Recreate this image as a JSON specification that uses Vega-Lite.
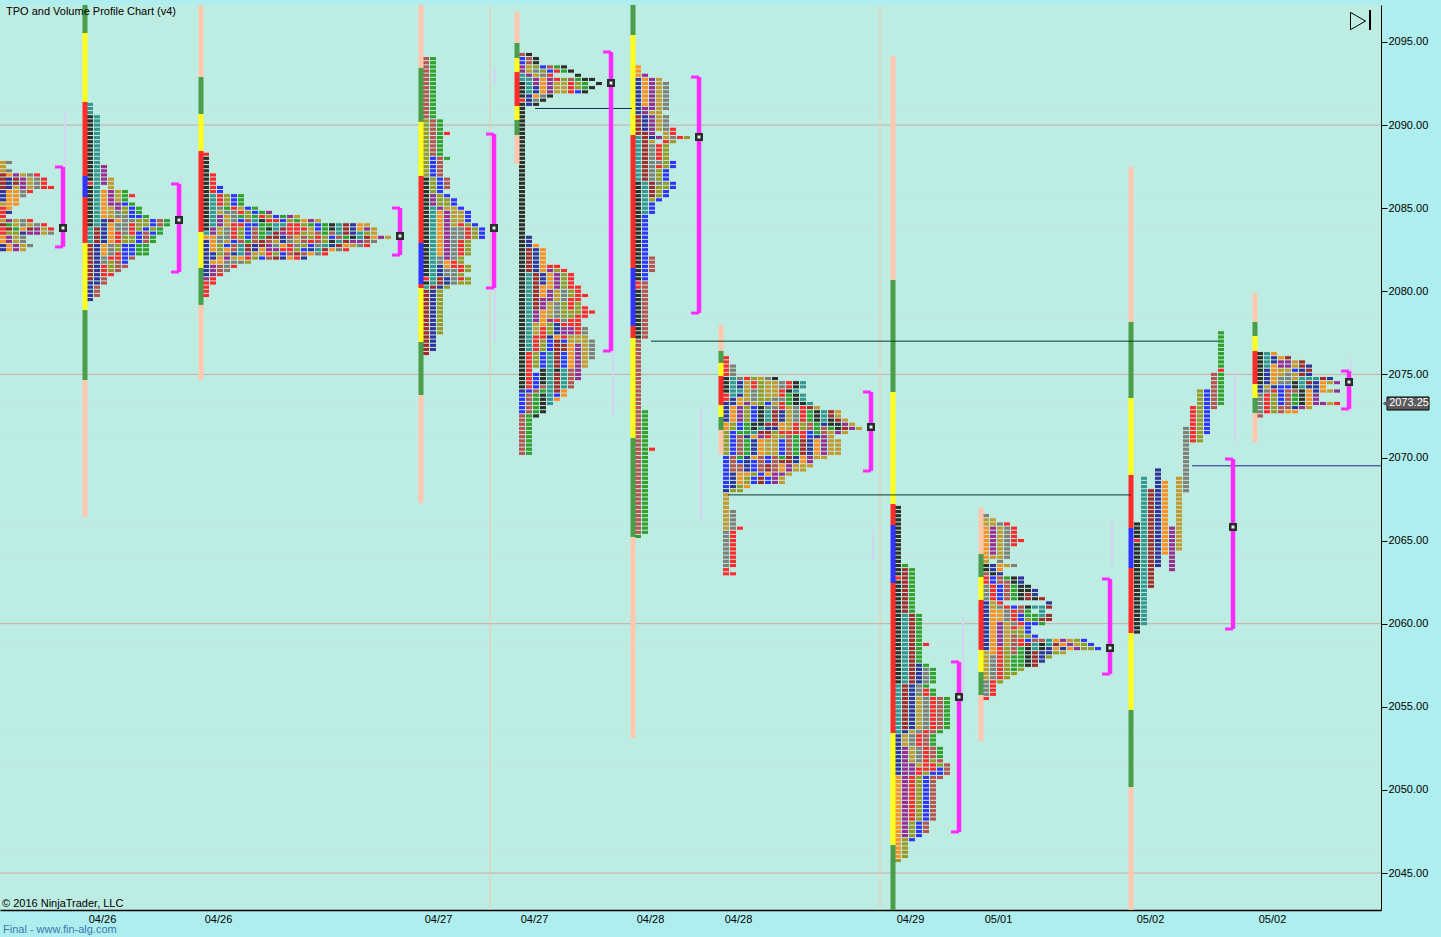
{"$schema":"https://vega.github.io/schema/vega-lite/v6.json","width":1381,"height":905,"autosize":{"type":"none"},"padding":{"left":0,"top":5,"right":60,"bottom":27},"background":"#aeeeee","view":{"fill":"#bdece3","stroke":null},"config":{"font":"Liberation Sans","scale":{"continuousPadding":0}},"resolve":{"axis":{"x":"independent","y":"independent"}},
"datasets":{
"levels":[2045.125,2045.375,2045.625,2045.875,2046.125,2046.375,2046.625,2046.875,2047.125,2047.375,2047.625,2047.875,2048.125,2048.375,2048.625,2048.875,2049.125,2049.375,2049.625,2049.875,2050.125,2050.375,2050.625,2050.875,2051.125,2051.375,2051.625,2051.875,2052.125,2052.375,2052.625,2052.875,2053.125,2053.375,2053.625,2053.875,2054.125,2054.375,2054.625,2054.875,2055.125,2055.375,2055.625,2055.875,2056.125,2056.375,2056.625,2056.875,2057.125,2057.375,2057.625,2057.875,2058.125,2058.375,2058.625,2058.875,2059.125,2059.375,2059.625,2059.875,2060.125,2060.375,2060.625,2060.875,2061.125,2061.375,2061.625,2061.875,2062.125,2062.375,2062.625,2062.875,2063.125,2063.375,2063.625,2063.875,2064.125,2064.375,2064.625,2064.875,2065.125,2065.375,2065.625,2065.875,2066.125,2066.375,2066.625,2066.875,2067.125,2067.375,2067.625,2067.875,2068.125,2068.375,2068.625,2068.875,2069.125,2069.375,2069.625,2069.875,2070.125,2070.375,2070.625,2070.875,2071.125,2071.375,2071.625,2071.875,2072.125,2072.375,2072.625,2072.875,2073.125,2073.375,2073.625,2073.875,2074.125,2074.375,2074.625,2074.875,2075.125,2075.375,2075.625,2075.875,2076.125,2076.375,2076.625,2076.875,2077.125,2077.375,2077.625,2077.875,2078.125,2078.375,2078.625,2078.875,2079.125,2079.375,2079.625,2079.875,2080.125,2080.375,2080.625,2080.875,2081.125,2081.375,2081.625,2081.875,2082.125,2082.375,2082.625,2082.875,2083.125,2083.375,2083.625,2083.875,2084.125,2084.375,2084.625,2084.875,2085.125,2085.375,2085.625,2085.875,2086.125,2086.375,2086.625,2086.875,2087.125,2087.375,2087.625,2087.875,2088.125,2088.375,2088.625,2088.875,2089.125,2089.375,2089.625,2089.875,2090.125,2090.375,2090.625,2090.875,2091.125,2091.375,2091.625,2091.875,2092.125,2092.375,2092.625,2092.875,2093.125,2093.375,2093.625,2093.875,2094.125,2094.375],
"cells":[
{"x":3,"a":2087.75,"b":2087.25,"c":"g"},{"x":3,"a":2087,"b":2086.25,"c":"R"},{"x":3,"a":2086,"b":2085.5,"c":"n"},{"x":3,"a":2085.25,"b":2085.25,"c":"g"},{"x":3,"a":2085,"b":2084.5,"c":"r"},{"x":3,"a":2084.25,"b":2084.25,"c":"g"},{"x":3,"a":2084,"b":2084,"c":"R"},{"x":3,"a":2083.75,"b":2083.5,"c":"r"},{"x":3,"a":2083.25,"b":2083,"c":"o"},{"x":3,"a":2082.75,"b":2082.5,"c":"n"},
{"x":9,"a":2087.75,"b":2087.75,"c":"G"},{"x":9,"a":2087.25,"b":2087.25,"c":"G"},{"x":9,"a":2087,"b":2087,"c":"o"},{"x":9,"a":2086.75,"b":2086.25,"c":"n"},{"x":9,"a":2086,"b":2085,"c":"o"},{"x":9,"a":2084.75,"b":2084.75,"c":"n"},{"x":9,"a":2084.25,"b":2084.25,"c":"p"},{"x":9,"a":2084,"b":2084,"c":"e"},{"x":9,"a":2083.75,"b":2083.75,"c":"R"},{"x":9,"a":2083.5,"b":2083.5,"c":"y"},{"x":9,"a":2083.25,"b":2083,"c":"p"},{"x":9,"a":2082.75,"b":2082.5,"c":"o"},
{"x":16,"a":2087,"b":2087,"c":"p"},{"x":16,"a":2086.75,"b":2086.5,"c":"R"},{"x":16,"a":2086.25,"b":2086.25,"c":"g"},{"x":16,"a":2086,"b":2085.25,"c":"o"},{"x":16,"a":2084.25,"b":2084,"c":"g"},{"x":16,"a":2083.75,"b":2083.75,"c":"e"},{"x":16,"a":2083.5,"b":2083.5,"c":"y"},{"x":16,"a":2083.25,"b":2083,"c":"g"},{"x":16,"a":2082.75,"b":2082.5,"c":"p"},
{"x":23,"a":2087,"b":2087,"c":"g"},{"x":23,"a":2086.75,"b":2086.25,"c":"p"},{"x":23,"a":2086,"b":2085.75,"c":"G"},{"x":23,"a":2084.25,"b":2084,"c":"G"},{"x":23,"a":2083.75,"b":2083.75,"c":"o"},{"x":23,"a":2083.5,"b":2083.5,"c":"n"},{"x":23,"a":2083.25,"b":2083,"c":"G"},{"x":23,"a":2082.75,"b":2082.5,"c":"g"},
{"x":30,"a":2087,"b":2087,"c":"G"},{"x":30,"a":2086.75,"b":2086.25,"c":"g"},{"x":30,"a":2086,"b":2086,"c":"r"},{"x":30,"a":2084.25,"b":2084.25,"c":"r"},{"x":30,"a":2084,"b":2084,"c":"g"},{"x":30,"a":2083.75,"b":2083.75,"c":"R"},{"x":30,"a":2083.5,"b":2083.5,"c":"p"},{"x":30,"a":2082.75,"b":2082.75,"c":"G"},
{"x":37,"a":2087,"b":2087,"c":"r"},{"x":37,"a":2086.75,"b":2086.25,"c":"G"},{"x":37,"a":2084,"b":2084,"c":"G"},{"x":37,"a":2083.75,"b":2083.5,"c":"p"},
{"x":44,"a":2086.75,"b":2086.25,"c":"r"},{"x":44,"a":2084,"b":2084,"c":"r"},{"x":44,"a":2083.75,"b":2083.5,"c":"g"},{"x":51,"a":2086.25,"b":2086.25,"c":"r"},{"x":51,"a":2083.75,"b":2083.75,"c":"r"},{"x":51,"a":2083.5,"b":2083.5,"c":"G"},
{"x":90,"a":2091.25,"b":2090.75,"c":"t"},{"x":90,"a":2090.5,"b":2086.75,"c":"k"},{"x":90,"a":2086.5,"b":2086.5,"c":"r"},{"x":90,"a":2086.25,"b":2084,"c":"k"},{"x":90,"a":2083.75,"b":2083,"c":"t"},{"x":90,"a":2082.75,"b":2080.75,"c":"R"},{"x":90,"a":2080.5,"b":2079.5,"c":"n"},
{"x":97,"a":2090.5,"b":2084,"c":"t"},{"x":97,"a":2083.75,"b":2083,"c":"R"},{"x":97,"a":2082.75,"b":2080.5,"c":"n"},{"x":97,"a":2080.25,"b":2079.75,"c":"i"},
{"x":104,"a":2087.5,"b":2086.5,"c":"p"},{"x":104,"a":2086,"b":2084.5,"c":"o"},{"x":104,"a":2084.25,"b":2083,"c":"n"},{"x":104,"a":2082.75,"b":2082.25,"c":"o"},{"x":104,"a":2082,"b":2081.75,"c":"G"},{"x":104,"a":2081.5,"b":2081,"c":"r"},{"x":104,"a":2080.75,"b":2080.5,"c":"i"},
{"x":111,"a":2086.75,"b":2086.25,"c":"g"},{"x":111,"a":2086,"b":2085.25,"c":"p"},{"x":111,"a":2085,"b":2084.5,"c":"g"},{"x":111,"a":2084.25,"b":2084.25,"c":"R"},{"x":111,"a":2084,"b":2083,"c":"o"},{"x":111,"a":2082.75,"b":2082.25,"c":"G"},{"x":111,"a":2082,"b":2082,"c":"r"},{"x":111,"a":2081.75,"b":2081.25,"c":"y"},{"x":111,"a":2081,"b":2081,"c":"r"},
{"x":118,"a":2086,"b":2085.5,"c":"g"},{"x":118,"a":2085.25,"b":2085,"c":"p"},{"x":118,"a":2084.75,"b":2084.5,"c":"G"},{"x":118,"a":2084.25,"b":2084.25,"c":"o"},{"x":118,"a":2084,"b":2083.75,"c":"G"},{"x":118,"a":2083.5,"b":2083,"c":"r"},{"x":118,"a":2082.75,"b":2082.5,"c":"y"},{"x":118,"a":2082.25,"b":2082,"c":"r"},{"x":118,"a":2081.75,"b":2081.25,"c":"i"},
{"x":125,"a":2086,"b":2085.5,"c":"e"},{"x":125,"a":2085.25,"b":2085.25,"c":"b"},{"x":125,"a":2085,"b":2084.75,"c":"y"},{"x":125,"a":2084.5,"b":2083.5,"c":"G"},{"x":125,"a":2083.25,"b":2083,"c":"y"},{"x":125,"a":2082.75,"b":2081.75,"c":"b"},{"x":125,"a":2081.5,"b":2081.5,"c":"i"},
{"x":132,"a":2085.75,"b":2085.75,"c":"r"},{"x":132,"a":2085.25,"b":2085.25,"c":"e"},{"x":132,"a":2085,"b":2084.5,"c":"b"},{"x":132,"a":2084.25,"b":2084.25,"c":"G"},{"x":132,"a":2084,"b":2083.5,"c":"r"},{"x":132,"a":2083.25,"b":2083,"c":"y"},{"x":132,"a":2082.75,"b":2082.25,"c":"b"},{"x":132,"a":2082,"b":2082,"c":"i"},
{"x":139,"a":2085,"b":2084.75,"c":"e"},{"x":139,"a":2084.5,"b":2084.5,"c":"b"},{"x":139,"a":2084.25,"b":2083.75,"c":"y"},{"x":139,"a":2083.5,"b":2083,"c":"b"},{"x":139,"a":2082.75,"b":2082.25,"c":"e"},
{"x":146,"a":2084.5,"b":2084.5,"c":"e"},{"x":146,"a":2084.25,"b":2084,"c":"y"},{"x":146,"a":2083.75,"b":2083.75,"c":"b"},{"x":146,"a":2083.5,"b":2083,"c":"i"},{"x":146,"a":2082.75,"b":2082.25,"c":"e"},
{"x":153,"a":2084.25,"b":2084,"c":"b"},{"x":153,"a":2083.75,"b":2083.75,"c":"y"},{"x":153,"a":2083.5,"b":2083.5,"c":"b"},{"x":153,"a":2083.25,"b":2083,"c":"e"},{"x":160,"a":2084.25,"b":2084,"c":"i"},{"x":160,"a":2083.75,"b":2083.5,"c":"e"},{"x":167,"a":2084.25,"b":2084,"c":"e"},
{"x":206,"a":2088.25,"b":2088.25,"c":"r"},{"x":206,"a":2088,"b":2083.75,"c":"k"},{"x":206,"a":2083.5,"b":2083.5,"c":"t"},{"x":206,"a":2083.25,"b":2083.25,"c":"o"},{"x":206,"a":2083,"b":2081,"c":"n"},{"x":206,"a":2080.75,"b":2080.75,"c":"p"},{"x":206,"a":2080.5,"b":2079.75,"c":"r"},
{"x":213,"a":2087,"b":2086,"c":"r"},{"x":213,"a":2085.75,"b":2084,"c":"t"},{"x":213,"a":2083.75,"b":2083.5,"c":"p"},{"x":213,"a":2083.25,"b":2082.5,"c":"o"},{"x":213,"a":2082,"b":2082,"c":"n"},{"x":213,"a":2081.75,"b":2081.75,"c":"o"},{"x":213,"a":2081.5,"b":2081,"c":"p"},{"x":213,"a":2080.75,"b":2080.5,"c":"r"},
{"x":213,"a":2082.25,"b":2082.25,"c":"n"},
{"x":220,"a":2086.25,"b":2086,"c":"b"},{"x":220,"a":2085.75,"b":2085.25,"c":"r"},{"x":220,"a":2085,"b":2085,"c":"G"},{"x":220,"a":2084.75,"b":2084.75,"c":"g"},{"x":220,"a":2084.5,"b":2084,"c":"p"},{"x":220,"a":2083.75,"b":2083.5,"c":"g"},{"x":220,"a":2083.25,"b":2083,"c":"G"},{"x":220,"a":2082.75,"b":2082.25,"c":"y"},{"x":220,"a":2082,"b":2081.75,"c":"o"},{"x":220,"a":2081.5,"b":2081.25,"c":"i"},{"x":220,"a":2081,"b":2081,"c":"r"},
{"x":227,"a":2085.75,"b":2085.25,"c":"y"},{"x":227,"a":2085,"b":2085,"c":"e"},{"x":227,"a":2084.75,"b":2084.75,"c":"G"},{"x":227,"a":2084.5,"b":2084,"c":"g"},{"x":227,"a":2083.75,"b":2083.25,"c":"G"},{"x":227,"a":2083,"b":2083,"c":"g"},{"x":227,"a":2082.75,"b":2082.75,"c":"b"},{"x":227,"a":2082.5,"b":2082.5,"c":"o"},{"x":227,"a":2082.25,"b":2082.25,"c":"i"},{"x":227,"a":2082,"b":2082,"c":"p"},{"x":227,"a":2081.75,"b":2081.25,"c":"G"},
{"x":234,"a":2085.75,"b":2085.25,"c":"b"},{"x":234,"a":2085,"b":2085,"c":"r"},{"x":234,"a":2084.75,"b":2084.25,"c":"G"},{"x":234,"a":2084,"b":2083.25,"c":"r"},{"x":234,"a":2083,"b":2083,"c":"b"},{"x":234,"a":2082.75,"b":2082.5,"c":"i"},{"x":234,"a":2082.25,"b":2082.25,"c":"n"},{"x":234,"a":2082,"b":2082,"c":"g"},{"x":234,"a":2081.75,"b":2081.75,"c":"G"},{"x":234,"a":2081.5,"b":2081.5,"c":"r"},
{"x":241,"a":2085.75,"b":2085.25,"c":"e"},{"x":241,"a":2085,"b":2085,"c":"g"},{"x":241,"a":2084.75,"b":2084.75,"c":"r"},{"x":241,"a":2084.5,"b":2084.5,"c":"e"},{"x":241,"a":2084.25,"b":2084.25,"c":"b"},{"x":241,"a":2084,"b":2084,"c":"r"},{"x":241,"a":2083.75,"b":2083.25,"c":"y"},{"x":241,"a":2083,"b":2083,"c":"i"},{"x":241,"a":2082.75,"b":2082.25,"c":"t"},{"x":241,"a":2082,"b":2082,"c":"o"},{"x":241,"a":2081.75,"b":2081.75,"c":"G"},
{"x":248,"a":2085,"b":2085,"c":"b"},{"x":248,"a":2084.75,"b":2084.5,"c":"y"},{"x":248,"a":2084.25,"b":2084.25,"c":"i"},{"x":248,"a":2084,"b":2083.25,"c":"b"},{"x":248,"a":2083,"b":2083,"c":"e"},{"x":248,"a":2082.75,"b":2082.5,"c":"R"},{"x":248,"a":2082.25,"b":2082.25,"c":"p"},{"x":248,"a":2082,"b":2082,"c":"r"},{"x":248,"a":2081.75,"b":2081.75,"c":"y"},
{"x":255,"a":2085,"b":2085,"c":"e"},{"x":255,"a":2084.75,"b":2084.75,"c":"b"},{"x":255,"a":2084.5,"b":2084.5,"c":"e"},{"x":255,"a":2084.25,"b":2084.25,"c":"t"},{"x":255,"a":2084,"b":2084,"c":"b"},{"x":255,"a":2083.75,"b":2083,"c":"i"},{"x":255,"a":2082.75,"b":2082.5,"c":"n"},{"x":255,"a":2082.25,"b":2082.25,"c":"g"},{"x":255,"a":2082,"b":2082,"c":"y"},
{"x":262,"a":2084.75,"b":2084.75,"c":"e"},{"x":262,"a":2084.5,"b":2084.5,"c":"r"},{"x":262,"a":2084.25,"b":2084.25,"c":"k"},{"x":262,"a":2084,"b":2083.25,"c":"e"},{"x":262,"a":2083,"b":2082.75,"c":"R"},{"x":262,"a":2082.5,"b":2082.5,"c":"o"},{"x":262,"a":2082.25,"b":2082.25,"c":"g"},{"x":262,"a":2082,"b":2082,"c":"b"},
{"x":269,"a":2084.75,"b":2084.75,"c":"p"},{"x":269,"a":2084.5,"b":2084.5,"c":"y"},{"x":269,"a":2084.25,"b":2084.25,"c":"r"},{"x":269,"a":2084,"b":2084,"c":"e"},{"x":269,"a":2083.75,"b":2083.75,"c":"k"},{"x":269,"a":2083.5,"b":2083.5,"c":"t"},{"x":269,"a":2083.25,"b":2083.25,"c":"R"},{"x":269,"a":2083,"b":2083,"c":"i"},{"x":269,"a":2082.75,"b":2082.5,"c":"p"},{"x":269,"a":2082.25,"b":2082.25,"c":"r"},{"x":269,"a":2082,"b":2082,"c":"i"},
{"x":276,"a":2084.5,"b":2084.5,"c":"b"},{"x":276,"a":2084.25,"b":2084.25,"c":"r"},{"x":276,"a":2084,"b":2083.75,"c":"t"},{"x":276,"a":2083.5,"b":2083.25,"c":"R"},{"x":276,"a":2083,"b":2083,"c":"g"},{"x":276,"a":2082.75,"b":2082.75,"c":"G"},{"x":276,"a":2082.5,"b":2082.5,"c":"p"},{"x":276,"a":2082.25,"b":2082.25,"c":"y"},{"x":276,"a":2082,"b":2082,"c":"R"},
{"x":283,"a":2084.5,"b":2084.5,"c":"e"},{"x":283,"a":2084.25,"b":2084.25,"c":"b"},{"x":283,"a":2084,"b":2084,"c":"t"},{"x":283,"a":2083.75,"b":2083.75,"c":"R"},{"x":283,"a":2083.5,"b":2083.5,"c":"p"},{"x":283,"a":2083.25,"b":2083,"c":"n"},{"x":283,"a":2082.75,"b":2082.75,"c":"o"},{"x":283,"a":2082.5,"b":2082.5,"c":"r"},{"x":283,"a":2082.25,"b":2082.25,"c":"b"},{"x":283,"a":2082,"b":2082,"c":"n"},
{"x":290,"a":2084.5,"b":2084.5,"c":"p"},{"x":290,"a":2084.25,"b":2084.25,"c":"y"},{"x":290,"a":2084,"b":2083.5,"c":"r"},{"x":290,"a":2083.25,"b":2083.25,"c":"i"},{"x":290,"a":2083,"b":2083,"c":"G"},{"x":290,"a":2082.75,"b":2082.5,"c":"r"},{"x":290,"a":2082.25,"b":2082.25,"c":"i"},{"x":290,"a":2082,"b":2082,"c":"o"},
{"x":297,"a":2084.5,"b":2084.5,"c":"g"},{"x":297,"a":2084.25,"b":2084.25,"c":"e"},{"x":297,"a":2084,"b":2083.5,"c":"r"},{"x":297,"a":2083.25,"b":2083,"c":"g"},{"x":297,"a":2082.75,"b":2082.75,"c":"G"},{"x":297,"a":2082.5,"b":2082.5,"c":"y"},{"x":297,"a":2082.25,"b":2082.25,"c":"R"},{"x":297,"a":2082,"b":2082,"c":"r"},
{"x":304,"a":2084.25,"b":2084.25,"c":"o"},{"x":304,"a":2084,"b":2084,"c":"y"},{"x":304,"a":2083.75,"b":2083.75,"c":"r"},{"x":304,"a":2083.5,"b":2083.5,"c":"y"},{"x":304,"a":2083.25,"b":2083,"c":"i"},{"x":304,"a":2082.75,"b":2082.75,"c":"y"},{"x":304,"a":2082.5,"b":2082.5,"c":"b"},{"x":304,"a":2082.25,"b":2082.25,"c":"i"},{"x":304,"a":2082,"b":2082,"c":"n"},
{"x":311,"a":2084.25,"b":2084.25,"c":"p"},{"x":311,"a":2084,"b":2084,"c":"e"},{"x":311,"a":2083.75,"b":2083.5,"c":"g"},{"x":311,"a":2083.25,"b":2083.25,"c":"y"},{"x":311,"a":2083,"b":2083,"c":"r"},{"x":311,"a":2082.75,"b":2082.75,"c":"b"},{"x":311,"a":2082.5,"b":2082.5,"c":"n"},{"x":311,"a":2082.25,"b":2082.25,"c":"o"},
{"x":318,"a":2084.25,"b":2084.25,"c":"g"},{"x":318,"a":2084,"b":2083.75,"c":"b"},{"x":318,"a":2083.5,"b":2083.5,"c":"i"},{"x":318,"a":2083.25,"b":2083.25,"c":"r"},{"x":318,"a":2083,"b":2083,"c":"i"},{"x":318,"a":2082.75,"b":2082.75,"c":"G"},{"x":318,"a":2082.5,"b":2082.5,"c":"t"},{"x":318,"a":2082.25,"b":2082.25,"c":"G"},
{"x":325,"a":2084,"b":2083.5,"c":"e"},{"x":325,"a":2083.25,"b":2083,"c":"y"},{"x":325,"a":2082.75,"b":2082.75,"c":"t"},{"x":325,"a":2082.5,"b":2082.5,"c":"R"},{"x":325,"a":2082.25,"b":2082.25,"c":"r"},
{"x":332,"a":2084,"b":2083.75,"c":"k"},{"x":332,"a":2083.5,"b":2083.5,"c":"i"},{"x":332,"a":2083.25,"b":2083.25,"c":"b"},{"x":332,"a":2083,"b":2083,"c":"k"},{"x":332,"a":2082.75,"b":2082.75,"c":"n"},{"x":332,"a":2082.5,"b":2082.5,"c":"o"},
{"x":339,"a":2084,"b":2083.5,"c":"t"},{"x":339,"a":2083.25,"b":2083.25,"c":"i"},{"x":339,"a":2083,"b":2083,"c":"t"},{"x":339,"a":2082.75,"b":2082.75,"c":"R"},{"x":339,"a":2082.5,"b":2082.5,"c":"G"},
{"x":346,"a":2084,"b":2083.5,"c":"R"},{"x":346,"a":2083.25,"b":2083.25,"c":"e"},{"x":346,"a":2083,"b":2083,"c":"R"},{"x":346,"a":2082.75,"b":2082.75,"c":"o"},{"x":346,"a":2082.5,"b":2082.5,"c":"r"},
{"x":353,"a":2084,"b":2083.5,"c":"n"},{"x":353,"a":2083.25,"b":2083.25,"c":"k"},{"x":353,"a":2083,"b":2083,"c":"p"},{"x":353,"a":2082.75,"b":2082.75,"c":"g"},
{"x":360,"a":2084,"b":2083.75,"c":"o"},{"x":360,"a":2083.5,"b":2083.25,"c":"t"},{"x":360,"a":2083,"b":2083,"c":"p"},{"x":360,"a":2082.75,"b":2082.75,"c":"G"},
{"x":367,"a":2084,"b":2084,"c":"g"},{"x":367,"a":2083.75,"b":2083.75,"c":"p"},{"x":367,"a":2083.5,"b":2083.5,"c":"y"},{"x":367,"a":2083.25,"b":2083.25,"c":"R"},{"x":367,"a":2083,"b":2083,"c":"i"},{"x":367,"a":2082.75,"b":2082.75,"c":"r"},
{"x":374,"a":2083.75,"b":2083.5,"c":"g"},{"x":374,"a":2083.25,"b":2083.25,"c":"o"},{"x":374,"a":2083,"b":2083,"c":"G"},{"x":381,"a":2083.25,"b":2083.25,"c":"p"},{"x":388,"a":2083.25,"b":2083.25,"c":"g"},
{"x":426,"a":2094,"b":2090.5,"c":"i"},{"x":426,"a":2090.25,"b":2087,"c":"y"},{"x":426,"a":2086.75,"b":2081,"c":"k"},{"x":426,"a":2080.75,"b":2080.75,"c":"r"},{"x":426,"a":2080.5,"b":2080.5,"c":"k"},{"x":426,"a":2080.25,"b":2080.25,"c":"t"},{"x":426,"a":2080,"b":2076.25,"c":"R"},
{"x":433,"a":2094,"b":2090.5,"c":"e"},{"x":433,"a":2090.25,"b":2088.25,"c":"i"},{"x":433,"a":2088,"b":2087,"c":"b"},{"x":433,"a":2086.75,"b":2086,"c":"y"},{"x":433,"a":2085.75,"b":2085.25,"c":"p"},{"x":433,"a":2085,"b":2080.5,"c":"t"},{"x":433,"a":2080.25,"b":2080.25,"c":"R"},{"x":433,"a":2080,"b":2076.5,"c":"n"},
{"x":440,"a":2090.25,"b":2088.25,"c":"e"},{"x":440,"a":2088,"b":2087,"c":"i"},{"x":440,"a":2086.75,"b":2086,"c":"b"},{"x":440,"a":2085.75,"b":2085.25,"c":"y"},{"x":440,"a":2085,"b":2085,"c":"p"},{"x":440,"a":2084.75,"b":2082.25,"c":"o"},{"x":440,"a":2082,"b":2081.75,"c":"G"},{"x":440,"a":2081.5,"b":2081,"c":"n"},{"x":440,"a":2080.75,"b":2080.5,"c":"R"},{"x":440,"a":2080.25,"b":2080.25,"c":"n"},{"x":440,"a":2080,"b":2077.5,"c":"y"},
{"x":447,"a":2089.5,"b":2089.5,"c":"r"},{"x":447,"a":2088,"b":2088,"c":"e"},{"x":447,"a":2086.75,"b":2086.25,"c":"i"},{"x":447,"a":2085.75,"b":2085.75,"c":"b"},{"x":447,"a":2085.5,"b":2085.25,"c":"y"},{"x":447,"a":2085,"b":2085,"c":"g"},{"x":447,"a":2084.75,"b":2082,"c":"p"},{"x":447,"a":2081.75,"b":2081.5,"c":"o"},{"x":447,"a":2081.25,"b":2081,"c":"G"},{"x":447,"a":2080.75,"b":2080.5,"c":"n"},{"x":447,"a":2080.25,"b":2080.25,"c":"y"},
{"x":454,"a":2085.5,"b":2085.25,"c":"b"},{"x":454,"a":2085,"b":2084,"c":"g"},{"x":454,"a":2083.75,"b":2083.25,"c":"G"},{"x":454,"a":2083,"b":2082,"c":"G"},{"x":454,"a":2081.75,"b":2081.5,"c":"r"},{"x":454,"a":2081.25,"b":2080.5,"c":"G"},
{"x":461,"a":2085,"b":2085,"c":"b"},{"x":461,"a":2084.75,"b":2084.25,"c":"g"},{"x":461,"a":2084,"b":2084,"c":"r"},{"x":461,"a":2083.75,"b":2083.25,"c":"G"},{"x":461,"a":2083,"b":2082.25,"c":"r"},{"x":461,"a":2082,"b":2081.75,"c":"y"},{"x":461,"a":2081.5,"b":2081.25,"c":"r"},{"x":461,"a":2081,"b":2081,"c":"y"},{"x":461,"a":2080.75,"b":2080.75,"c":"r"},{"x":461,"a":2080.5,"b":2080.5,"c":"y"},
{"x":468,"a":2084.75,"b":2084.25,"c":"b"},{"x":468,"a":2084,"b":2084,"c":"y"},{"x":468,"a":2083.75,"b":2083.25,"c":"r"},{"x":468,"a":2083,"b":2082.25,"c":"y"},{"x":468,"a":2081.5,"b":2081.25,"c":"y"},{"x":468,"a":2080.75,"b":2080.5,"c":"y"},
{"x":475,"a":2084,"b":2084,"c":"b"},{"x":475,"a":2083.75,"b":2083.25,"c":"y"},{"x":482,"a":2083.75,"b":2083.25,"c":"b"},
{"x":522,"a":2094.25,"b":2094.25,"c":"i"},{"x":522,"a":2094,"b":2093.75,"c":"b"},{"x":522,"a":2093.5,"b":2093.25,"c":"p"},{"x":522,"a":2093,"b":2092.75,"c":"t"},{"x":522,"a":2092.5,"b":2091.75,"c":"k"},{"x":522,"a":2091.5,"b":2091.5,"c":"r"},{"x":522,"a":2091.25,"b":2074.25,"c":"k"},{"x":522,"a":2074,"b":2074,"c":"n"},{"x":522,"a":2073.75,"b":2072.75,"c":"b"},{"x":522,"a":2072.5,"b":2070.25,"c":"i"},
{"x":529,"a":2094.25,"b":2094.25,"c":"k"},{"x":529,"a":2094,"b":2093.75,"c":"i"},{"x":529,"a":2093.5,"b":2093.25,"c":"g"},{"x":529,"a":2093,"b":2093,"c":"p"},{"x":529,"a":2092.75,"b":2092,"c":"t"},{"x":529,"a":2091.75,"b":2091.25,"c":"n"},{"x":529,"a":2083.25,"b":2082.75,"c":"n"},{"x":529,"a":2082.5,"b":2081.25,"c":"R"},{"x":529,"a":2081,"b":2076.5,"c":"t"},{"x":529,"a":2076.25,"b":2074.25,"c":"r"},{"x":529,"a":2074,"b":2074,"c":"b"},{"x":529,"a":2073.75,"b":2072.75,"c":"i"},{"x":529,"a":2072.5,"b":2070.25,"c":"e"},
{"x":536,"a":2094,"b":2093.75,"c":"k"},{"x":536,"a":2093.5,"b":2093.5,"c":"y"},{"x":536,"a":2093.25,"b":2093.25,"c":"G"},{"x":536,"a":2093,"b":2093,"c":"g"},{"x":536,"a":2092.75,"b":2092.5,"c":"p"},{"x":536,"a":2092.25,"b":2092,"c":"n"},{"x":536,"a":2091.75,"b":2091.75,"c":"o"},{"x":536,"a":2091.5,"b":2091.5,"c":"G"},{"x":536,"a":2091.25,"b":2091.25,"c":"k"},{"x":536,"a":2082.75,"b":2082.75,"c":"o"},{"x":536,"a":2082.5,"b":2081.25,"c":"n"},{"x":536,"a":2081,"b":2079,"c":"R"},{"x":536,"a":2078.75,"b":2078.25,"c":"p"},{"x":536,"a":2078,"b":2077.5,"c":"g"},{"x":536,"a":2077.25,"b":2076.5,"c":"r"},{"x":536,"a":2076.25,"b":2075.5,"c":"y"},{"x":536,"a":2075,"b":2074.25,"c":"b"},{"x":536,"a":2074,"b":2074,"c":"i"},{"x":536,"a":2073.75,"b":2072.75,"c":"e"},{"x":536,"a":2072.5,"b":2072.5,"c":"k"},
{"x":543,"a":2093.5,"b":2093.5,"c":"b"},{"x":543,"a":2093.25,"b":2093.25,"c":"y"},{"x":543,"a":2093,"b":2093,"c":"G"},{"x":543,"a":2092.75,"b":2092,"c":"o"},{"x":543,"a":2091.75,"b":2091.75,"c":"G"},{"x":543,"a":2091.5,"b":2091.5,"c":"k"},{"x":543,"a":2082.5,"b":2081.25,"c":"o"},{"x":543,"a":2081,"b":2080.5,"c":"n"},{"x":543,"a":2080.25,"b":2079.75,"c":"o"},{"x":543,"a":2079.5,"b":2079,"c":"p"},{"x":543,"a":2078.75,"b":2078,"c":"o"},{"x":543,"a":2077.75,"b":2077.25,"c":"r"},{"x":543,"a":2077,"b":2076.5,"c":"y"},{"x":543,"a":2076.25,"b":2075.5,"c":"b"},{"x":543,"a":2075.25,"b":2074.5,"c":"k"},{"x":543,"a":2074.25,"b":2074.25,"c":"i"},{"x":543,"a":2074,"b":2074,"c":"e"},{"x":543,"a":2073.75,"b":2072.75,"c":"k"},
{"x":550,"a":2093.5,"b":2093.5,"c":"i"},{"x":550,"a":2093.25,"b":2093.25,"c":"b"},{"x":550,"a":2093,"b":2093,"c":"r"},{"x":550,"a":2092.75,"b":2092,"c":"p"},{"x":550,"a":2091.75,"b":2091.75,"c":"k"},{"x":550,"a":2081.5,"b":2081.5,"c":"r"},{"x":550,"a":2081.25,"b":2081.25,"c":"p"},{"x":550,"a":2081,"b":2080.25,"c":"o"},{"x":550,"a":2080,"b":2079.5,"c":"p"},{"x":550,"a":2079.25,"b":2078.5,"c":"g"},{"x":550,"a":2078.25,"b":2078.25,"c":"p"},{"x":550,"a":2078,"b":2077.5,"c":"y"},{"x":550,"a":2077.25,"b":2077.25,"c":"n"},{"x":550,"a":2077,"b":2076.5,"c":"b"},{"x":550,"a":2076.25,"b":2075.5,"c":"t"},{"x":550,"a":2075.25,"b":2073.25,"c":"t"},
{"x":557,"a":2093.5,"b":2093.5,"c":"e"},{"x":557,"a":2093.25,"b":2093.25,"c":"r"},{"x":557,"a":2092.75,"b":2092.75,"c":"r"},{"x":557,"a":2092.5,"b":2092,"c":"g"},{"x":557,"a":2081.5,"b":2081.5,"c":"r"},{"x":557,"a":2081.25,"b":2081.25,"c":"y"},{"x":557,"a":2081,"b":2080.25,"c":"p"},{"x":557,"a":2080,"b":2079.5,"c":"g"},{"x":557,"a":2079.25,"b":2078.5,"c":"G"},{"x":557,"a":2078.25,"b":2078.25,"c":"r"},{"x":557,"a":2078,"b":2077.5,"c":"n"},{"x":557,"a":2077.25,"b":2077.25,"c":"o"},{"x":557,"a":2077,"b":2075.5,"c":"R"},{"x":557,"a":2075.25,"b":2075.25,"c":"k"},{"x":557,"a":2075,"b":2074,"c":"R"},{"x":557,"a":2073.75,"b":2073.75,"c":"b"},{"x":557,"a":2073.5,"b":2073.5,"c":"o"},
{"x":564,"a":2093.5,"b":2093.5,"c":"k"},{"x":564,"a":2093.25,"b":2093.25,"c":"e"},{"x":564,"a":2092.75,"b":2092.75,"c":"y"},{"x":564,"a":2092.5,"b":2092,"c":"g"},{"x":564,"a":2081.25,"b":2081.25,"c":"r"},{"x":564,"a":2081,"b":2080.25,"c":"y"},{"x":564,"a":2080,"b":2079.5,"c":"G"},{"x":564,"a":2079.25,"b":2078.5,"c":"y"},{"x":564,"a":2078.25,"b":2078.25,"c":"G"},{"x":564,"a":2078,"b":2078,"c":"r"},{"x":564,"a":2077.75,"b":2077.5,"c":"p"},{"x":564,"a":2077.25,"b":2077.25,"c":"r"},{"x":564,"a":2077,"b":2077,"c":"b"},{"x":564,"a":2076.75,"b":2076.5,"c":"R"},{"x":564,"a":2076.25,"b":2075.5,"c":"b"},{"x":564,"a":2075.25,"b":2074.25,"c":"t"},{"x":564,"a":2074,"b":2073.75,"c":"o"},
{"x":571,"a":2093.25,"b":2093.25,"c":"k"},{"x":571,"a":2092.75,"b":2092.75,"c":"i"},{"x":571,"a":2092.5,"b":2092,"c":"r"},{"x":571,"a":2081,"b":2080.25,"c":"r"},{"x":571,"a":2080,"b":2079.75,"c":"y"},{"x":571,"a":2079.5,"b":2079,"c":"r"},{"x":571,"a":2078.75,"b":2078.5,"c":"y"},{"x":571,"a":2078.25,"b":2078,"c":"r"},{"x":571,"a":2077.75,"b":2077.5,"c":"p"},{"x":571,"a":2077.25,"b":2077,"c":"g"},{"x":571,"a":2076.75,"b":2075.5,"c":"o"},{"x":571,"a":2075.25,"b":2074.25,"c":"i"},
{"x":578,"a":2093,"b":2093,"c":"k"},{"x":578,"a":2092.75,"b":2092.75,"c":"e"},{"x":578,"a":2092.5,"b":2092.25,"c":"y"},{"x":578,"a":2092,"b":2092,"c":"b"},{"x":578,"a":2080.25,"b":2079.5,"c":"r"},{"x":578,"a":2079.25,"b":2078.75,"c":"y"},{"x":578,"a":2078.5,"b":2078.25,"c":"r"},{"x":578,"a":2078,"b":2077.5,"c":"r"},{"x":578,"a":2077.25,"b":2077,"c":"g"},{"x":578,"a":2076.75,"b":2075.25,"c":"p"},{"x":578,"a":2075,"b":2074.75,"c":"p"},
{"x":585,"a":2092.75,"b":2092.75,"c":"k"},{"x":585,"a":2092.5,"b":2092.25,"c":"e"},{"x":585,"a":2092,"b":2092,"c":"k"},{"x":585,"a":2079.75,"b":2079.75,"c":"r"},{"x":585,"a":2079,"b":2078.5,"c":"r"},{"x":585,"a":2077.75,"b":2077.5,"c":"G"},{"x":585,"a":2077.25,"b":2075.5,"c":"g"},
{"x":592,"a":2092.75,"b":2092.75,"c":"k"},{"x":592,"a":2092.25,"b":2092.25,"c":"k"},{"x":592,"a":2078.75,"b":2078.75,"c":"r"},{"x":592,"a":2077,"b":2076,"c":"G"},{"x":599,"a":2092.5,"b":2092.5,"c":"k"},
{"x":638,"a":2093.5,"b":2093,"c":"o"},{"x":638,"a":2092.75,"b":2090.75,"c":"n"},{"x":638,"a":2090.5,"b":2089.5,"c":"R"},{"x":638,"a":2089.25,"b":2086.75,"c":"t"},{"x":638,"a":2086.5,"b":2080.75,"c":"k"},{"x":638,"a":2080.5,"b":2080.25,"c":"r"},{"x":638,"a":2080,"b":2077.25,"c":"k"},{"x":638,"a":2077,"b":2065.5,"c":"i"},{"x":638,"a":2065.25,"b":2065.25,"c":"e"},
{"x":645,"a":2093,"b":2093,"c":"p"},{"x":645,"a":2092.75,"b":2091.25,"c":"o"},{"x":645,"a":2091,"b":2090.75,"c":"p"},{"x":645,"a":2090.5,"b":2089.75,"c":"n"},{"x":645,"a":2089.5,"b":2086.75,"c":"R"},{"x":645,"a":2086.5,"b":2084.75,"c":"t"},{"x":645,"a":2084.5,"b":2080.75,"c":"b"},{"x":645,"a":2080.5,"b":2077.25,"c":"i"},{"x":645,"a":2072.75,"b":2065.5,"c":"e"},
{"x":652,"a":2092.75,"b":2091,"c":"p"},{"x":652,"a":2090.75,"b":2090.75,"c":"g"},{"x":652,"a":2090.5,"b":2089.5,"c":"p"},{"x":652,"a":2089.25,"b":2089.25,"c":"n"},{"x":652,"a":2089,"b":2089,"c":"g"},{"x":652,"a":2088.75,"b":2086.75,"c":"G"},{"x":652,"a":2086.5,"b":2085.75,"c":"R"},{"x":652,"a":2085.5,"b":2085.5,"c":"y"},{"x":652,"a":2085.25,"b":2084.75,"c":"b"},{"x":652,"a":2082,"b":2081.25,"c":"i"},{"x":652,"a":2070.5,"b":2070.5,"c":"r"},
{"x":659,"a":2092.75,"b":2089.75,"c":"g"},{"x":659,"a":2089.25,"b":2089.25,"c":"p"},{"x":659,"a":2088.75,"b":2088,"c":"r"},{"x":659,"a":2087.75,"b":2087.75,"c":"G"},{"x":659,"a":2087.5,"b":2087.5,"c":"r"},{"x":659,"a":2087.25,"b":2086.75,"c":"y"},{"x":659,"a":2086.5,"b":2086.5,"c":"G"},{"x":659,"a":2086.25,"b":2085.75,"c":"y"},{"x":659,"a":2085.5,"b":2085.5,"c":"b"},
{"x":666,"a":2092.5,"b":2091,"c":"G"},{"x":666,"a":2090.5,"b":2089.75,"c":"G"},{"x":666,"a":2089.5,"b":2089.25,"c":"g"},{"x":666,"a":2089,"b":2089,"c":"r"},{"x":666,"a":2088.75,"b":2087.5,"c":"y"},{"x":666,"a":2087.25,"b":2086.75,"c":"b"},{"x":666,"a":2086.5,"b":2086.25,"c":"y"},{"x":666,"a":2086,"b":2085.75,"c":"b"},
{"x":673,"a":2089.75,"b":2089.5,"c":"r"},{"x":673,"a":2089.25,"b":2089.25,"c":"G"},{"x":673,"a":2089,"b":2089,"c":"y"},{"x":673,"a":2087.75,"b":2087.5,"c":"b"},{"x":673,"a":2086.5,"b":2086.25,"c":"b"},{"x":680,"a":2089.25,"b":2089.25,"c":"r"},{"x":687,"a":2089.25,"b":2089.25,"c":"y"},
{"x":726,"a":2076,"b":2075,"c":"r"},{"x":726,"a":2074.75,"b":2074,"c":"k"},{"x":726,"a":2073.75,"b":2073.5,"c":"r"},{"x":726,"a":2073.25,"b":2072.25,"c":"n"},{"x":726,"a":2072,"b":2071.75,"c":"o"},{"x":726,"a":2071.5,"b":2070.25,"c":"y"},{"x":726,"a":2070,"b":2068.25,"c":"b"},{"x":726,"a":2068,"b":2068,"c":"n"},{"x":726,"a":2067.75,"b":2065.75,"c":"g"},{"x":726,"a":2065.5,"b":2063.5,"c":"G"},{"x":726,"a":2063.25,"b":2063,"c":"r"},
{"x":733,"a":2075.5,"b":2075,"c":"G"},{"x":733,"a":2074.75,"b":2073.75,"c":"t"},{"x":733,"a":2073.5,"b":2073.25,"c":"n"},{"x":733,"a":2073,"b":2072.25,"c":"o"},{"x":733,"a":2072,"b":2071.75,"c":"y"},{"x":733,"a":2071.5,"b":2070.25,"c":"b"},{"x":733,"a":2070,"b":2069.25,"c":"i"},{"x":733,"a":2069,"b":2068.75,"c":"n"},{"x":733,"a":2068.5,"b":2068.25,"c":"n"},{"x":733,"a":2068,"b":2068,"c":"y"},{"x":733,"a":2066.75,"b":2065.75,"c":"G"},{"x":733,"a":2065.5,"b":2063.5,"c":"r"},{"x":733,"a":2063,"b":2063,"c":"r"},
{"x":740,"a":2074.75,"b":2074.75,"c":"G"},{"x":740,"a":2074.5,"b":2074.25,"c":"n"},{"x":740,"a":2074,"b":2074,"c":"t"},{"x":740,"a":2073.75,"b":2073.75,"c":"n"},{"x":740,"a":2073.5,"b":2073.25,"c":"o"},{"x":740,"a":2073,"b":2072.25,"c":"p"},{"x":740,"a":2072,"b":2071.75,"c":"b"},{"x":740,"a":2071.5,"b":2071.5,"c":"e"},{"x":740,"a":2071.25,"b":2070.25,"c":"i"},{"x":740,"a":2070,"b":2070,"c":"e"},{"x":740,"a":2069.75,"b":2069.75,"c":"b"},{"x":740,"a":2069.5,"b":2069.25,"c":"i"},{"x":740,"a":2069,"b":2068.5,"c":"o"},{"x":740,"a":2068.25,"b":2068,"c":"y"},{"x":740,"a":2065.75,"b":2065.75,"c":"r"},
{"x":747,"a":2074.75,"b":2074.75,"c":"r"},{"x":747,"a":2074.5,"b":2073.5,"c":"g"},{"x":747,"a":2073.25,"b":2073.25,"c":"p"},{"x":747,"a":2073,"b":2072.25,"c":"y"},{"x":747,"a":2072,"b":2071.5,"c":"e"},{"x":747,"a":2071.25,"b":2071.25,"c":"n"},{"x":747,"a":2071,"b":2070.25,"c":"e"},{"x":747,"a":2070,"b":2069.25,"c":"n"},{"x":747,"a":2069,"b":2069,"c":"o"},{"x":747,"a":2068.75,"b":2068.5,"c":"y"},{"x":747,"a":2068.25,"b":2068.25,"c":"o"},
{"x":754,"a":2074.75,"b":2074.75,"c":"y"},{"x":754,"a":2074.5,"b":2074.25,"c":"r"},{"x":754,"a":2074,"b":2073.5,"c":"G"},{"x":754,"a":2073.25,"b":2073.25,"c":"g"},{"x":754,"a":2073,"b":2072.25,"c":"b"},{"x":754,"a":2072,"b":2071.75,"c":"k"},{"x":754,"a":2071.5,"b":2071.5,"c":"t"},{"x":754,"a":2071.25,"b":2071.25,"c":"o"},{"x":754,"a":2071,"b":2070.25,"c":"n"},{"x":754,"a":2070,"b":2070,"c":"o"},{"x":754,"a":2069.75,"b":2069.25,"c":"b"},{"x":754,"a":2069,"b":2069,"c":"y"},{"x":754,"a":2068.75,"b":2068.5,"c":"b"},
{"x":761,"a":2074.75,"b":2074.75,"c":"g"},{"x":761,"a":2074.5,"b":2073.25,"c":"y"},{"x":761,"a":2073,"b":2072,"c":"k"},{"x":761,"a":2071.75,"b":2071.75,"c":"t"},{"x":761,"a":2071.5,"b":2071.5,"c":"R"},{"x":761,"a":2071.25,"b":2071.25,"c":"p"},{"x":761,"a":2071,"b":2070.25,"c":"o"},{"x":761,"a":2070,"b":2069.25,"c":"i"},{"x":761,"a":2069,"b":2069,"c":"b"},{"x":761,"a":2068.75,"b":2068.5,"c":"R"},
{"x":768,"a":2074.75,"b":2074.75,"c":"G"},{"x":768,"a":2074.5,"b":2073.75,"c":"g"},{"x":768,"a":2073.5,"b":2073.5,"c":"y"},{"x":768,"a":2073.25,"b":2073.25,"c":"b"},{"x":768,"a":2073,"b":2073,"c":"G"},{"x":768,"a":2072.75,"b":2072.25,"c":"t"},{"x":768,"a":2072,"b":2072,"c":"R"},{"x":768,"a":2071.75,"b":2071.75,"c":"n"},{"x":768,"a":2071.5,"b":2071.5,"c":"R"},{"x":768,"a":2071.25,"b":2071.25,"c":"r"},{"x":768,"a":2071,"b":2070.25,"c":"g"},{"x":768,"a":2070,"b":2069.75,"c":"b"},{"x":768,"a":2069.5,"b":2069.25,"c":"R"},{"x":768,"a":2069,"b":2069,"c":"o"},{"x":768,"a":2068.75,"b":2068.5,"c":"b"},
{"x":775,"a":2074.75,"b":2074.75,"c":"k"},{"x":775,"a":2074.5,"b":2073.75,"c":"g"},{"x":775,"a":2073.5,"b":2073.5,"c":"G"},{"x":775,"a":2073.25,"b":2073.25,"c":"g"},{"x":775,"a":2073,"b":2073,"c":"G"},{"x":775,"a":2072.75,"b":2072,"c":"R"},{"x":775,"a":2071.75,"b":2071.75,"c":"n"},{"x":775,"a":2071.5,"b":2071.5,"c":"y"},{"x":775,"a":2071.25,"b":2070.25,"c":"g"},{"x":775,"a":2070,"b":2069.25,"c":"i"},{"x":775,"a":2069,"b":2068.5,"c":"p"},
{"x":782,"a":2074.5,"b":2074.25,"c":"G"},{"x":782,"a":2074,"b":2073.75,"c":"r"},{"x":782,"a":2073.5,"b":2073.5,"c":"G"},{"x":782,"a":2073.25,"b":2073,"c":"r"},{"x":782,"a":2072.75,"b":2072.25,"c":"n"},{"x":782,"a":2072,"b":2071.75,"c":"o"},{"x":782,"a":2071.5,"b":2071.5,"c":"r"},{"x":782,"a":2071.25,"b":2071.25,"c":"y"},{"x":782,"a":2071,"b":2070.25,"c":"b"},{"x":782,"a":2070,"b":2070,"c":"e"},{"x":782,"a":2069.75,"b":2069.75,"c":"R"},{"x":782,"a":2069.5,"b":2069.25,"c":"o"},{"x":782,"a":2069,"b":2069,"c":"p"},{"x":782,"a":2068.75,"b":2068.5,"c":"g"},
{"x":789,"a":2074.5,"b":2074.25,"c":"r"},{"x":789,"a":2074,"b":2074,"c":"k"},{"x":789,"a":2073.75,"b":2073.25,"c":"e"},{"x":789,"a":2073,"b":2072.5,"c":"g"},{"x":789,"a":2072.25,"b":2071.75,"c":"g"},{"x":789,"a":2071.5,"b":2071.5,"c":"r"},{"x":789,"a":2071.25,"b":2070.25,"c":"i"},{"x":789,"a":2070,"b":2069.75,"c":"R"},{"x":789,"a":2069.5,"b":2069.25,"c":"p"},{"x":789,"a":2069,"b":2069,"c":"g"},
{"x":796,"a":2074.5,"b":2074.25,"c":"k"},{"x":796,"a":2074,"b":2074,"c":"t"},{"x":796,"a":2073.75,"b":2073.25,"c":"k"},{"x":796,"a":2073,"b":2072.25,"c":"G"},{"x":796,"a":2072,"b":2071.5,"c":"r"},{"x":796,"a":2071.25,"b":2070.25,"c":"e"},{"x":796,"a":2070,"b":2069.75,"c":"n"},{"x":796,"a":2069.5,"b":2069.25,"c":"g"},
{"x":803,"a":2074.5,"b":2074.25,"c":"t"},{"x":803,"a":2073.75,"b":2073.5,"c":"t"},{"x":803,"a":2073.25,"b":2073.25,"c":"k"},{"x":803,"a":2073,"b":2072.25,"c":"r"},{"x":803,"a":2072,"b":2071.75,"c":"y"},{"x":803,"a":2071.5,"b":2071.25,"c":"r"},{"x":803,"a":2071,"b":2070.25,"c":"R"},{"x":803,"a":2070,"b":2069.75,"c":"o"},{"x":803,"a":2069.5,"b":2069.25,"c":"g"},
{"x":810,"a":2073.25,"b":2073.25,"c":"t"},{"x":810,"a":2073,"b":2073,"c":"R"},{"x":810,"a":2072.75,"b":2072.25,"c":"e"},{"x":810,"a":2072,"b":2071.75,"c":"i"},{"x":810,"a":2071.5,"b":2071.25,"c":"b"},{"x":810,"a":2071,"b":2070.25,"c":"n"},{"x":810,"a":2070,"b":2069.75,"c":"p"},{"x":810,"a":2069.5,"b":2069.5,"c":"g"},
{"x":817,"a":2073,"b":2073,"c":"g"},{"x":817,"a":2072.75,"b":2072.25,"c":"k"},{"x":817,"a":2072,"b":2071.75,"c":"e"},{"x":817,"a":2071.5,"b":2071.5,"c":"e"},{"x":817,"a":2071.25,"b":2071.25,"c":"n"},{"x":817,"a":2071,"b":2070.25,"c":"o"},{"x":817,"a":2070,"b":2070,"c":"g"},
{"x":824,"a":2072.75,"b":2072.25,"c":"t"},{"x":824,"a":2072,"b":2072,"c":"n"},{"x":824,"a":2071.75,"b":2071.5,"c":"i"},{"x":824,"a":2071.25,"b":2071.25,"c":"p"},{"x":824,"a":2071,"b":2070.25,"c":"p"},{"x":824,"a":2070,"b":2070,"c":"g"},
{"x":831,"a":2072.75,"b":2072.5,"c":"R"},{"x":831,"a":2072.25,"b":2072,"c":"k"},{"x":831,"a":2071.75,"b":2071.75,"c":"e"},{"x":831,"a":2071.5,"b":2071.25,"c":"g"},{"x":831,"a":2071,"b":2070.25,"c":"g"},
{"x":838,"a":2072.75,"b":2072.5,"c":"g"},{"x":838,"a":2072.25,"b":2072.25,"c":"R"},{"x":838,"a":2072,"b":2072,"c":"k"},{"x":838,"a":2071.75,"b":2071.75,"c":"k"},{"x":838,"a":2071.5,"b":2071.5,"c":"p"},{"x":838,"a":2071,"b":2070.25,"c":"g"},
{"x":845,"a":2072.25,"b":2072.25,"c":"g"},{"x":845,"a":2072,"b":2072,"c":"p"},{"x":845,"a":2071.75,"b":2071.75,"c":"R"},{"x":845,"a":2071.5,"b":2071.5,"c":"g"},{"x":852,"a":2072,"b":2072,"c":"g"},{"x":852,"a":2071.75,"b":2071.75,"c":"p"},{"x":859,"a":2071.75,"b":2071.75,"c":"g"},
{"x":898,"a":2067,"b":2063,"c":"k"},{"x":898,"a":2062.75,"b":2062.75,"c":"r"},{"x":898,"a":2062.5,"b":2056.5,"c":"k"},{"x":898,"a":2056.25,"b":2053.5,"c":"t"},{"x":898,"a":2053.25,"b":2051,"c":"n"},{"x":898,"a":2050.75,"b":2046,"c":"o"},{"x":898,"a":2045.75,"b":2045.75,"c":"y"},
{"x":905,"a":2063.5,"b":2063.5,"c":"e"},{"x":905,"a":2063.25,"b":2060.75,"c":"R"},{"x":905,"a":2060.5,"b":2056.5,"c":"t"},{"x":905,"a":2056.25,"b":2053.75,"c":"R"},{"x":905,"a":2053.5,"b":2053.5,"c":"n"},{"x":905,"a":2053.25,"b":2052.75,"c":"g"},{"x":905,"a":2052.5,"b":2051,"c":"p"},{"x":905,"a":2050.75,"b":2047.25,"c":"p"},{"x":905,"a":2047,"b":2046,"c":"y"},
{"x":912,"a":2063.25,"b":2060.75,"c":"e"},{"x":912,"a":2060.5,"b":2056.5,"c":"R"},{"x":912,"a":2056.25,"b":2053.75,"c":"n"},{"x":912,"a":2053.5,"b":2053.5,"c":"g"},{"x":912,"a":2053.25,"b":2052.75,"c":"G"},{"x":912,"a":2052.5,"b":2051.75,"c":"g"},{"x":912,"a":2051.5,"b":2051,"c":"p"},{"x":912,"a":2050.75,"b":2048.25,"c":"r"},{"x":912,"a":2048,"b":2047.25,"c":"y"},{"x":912,"a":2047,"b":2047,"c":"b"},
{"x":919,"a":2060.5,"b":2057.75,"c":"e"},{"x":919,"a":2057.5,"b":2056.5,"c":"n"},{"x":919,"a":2056.25,"b":2055.75,"c":"G"},{"x":919,"a":2055.5,"b":2053.75,"c":"g"},{"x":919,"a":2053.5,"b":2053.5,"c":"G"},{"x":919,"a":2053.25,"b":2052.75,"c":"r"},{"x":919,"a":2052.5,"b":2051.75,"c":"G"},{"x":919,"a":2051.5,"b":2051.5,"c":"g"},{"x":919,"a":2051.25,"b":2051,"c":"r"},{"x":919,"a":2050.75,"b":2048.25,"c":"y"},{"x":919,"a":2048,"b":2047.25,"c":"b"},
{"x":926,"a":2058.75,"b":2058.75,"c":"r"},{"x":926,"a":2057.5,"b":2057.5,"c":"e"},{"x":926,"a":2057.25,"b":2056.5,"c":"G"},{"x":926,"a":2056.25,"b":2056.25,"c":"e"},{"x":926,"a":2056,"b":2055.75,"c":"r"},{"x":926,"a":2055.5,"b":2053.75,"c":"G"},{"x":926,"a":2053.5,"b":2053.5,"c":"r"},{"x":926,"a":2053.25,"b":2052.75,"c":"i"},{"x":926,"a":2052.5,"b":2051.5,"c":"r"},{"x":926,"a":2051.25,"b":2051.25,"c":"r"},{"x":926,"a":2051,"b":2051,"c":"y"},{"x":926,"a":2050.75,"b":2048.25,"c":"b"},{"x":926,"a":2048,"b":2047.5,"c":"i"},
{"x":933,"a":2057.25,"b":2056.5,"c":"e"},{"x":933,"a":2056,"b":2055.75,"c":"e"},{"x":933,"a":2055.5,"b":2053.75,"c":"r"},{"x":933,"a":2053.5,"b":2053.5,"c":"i"},{"x":933,"a":2053.25,"b":2052.75,"c":"e"},{"x":933,"a":2052.5,"b":2052,"c":"i"},{"x":933,"a":2051.75,"b":2051.75,"c":"y"},{"x":933,"a":2051.5,"b":2051.25,"c":"r"},{"x":933,"a":2051,"b":2051,"c":"b"},{"x":933,"a":2050.75,"b":2048.25,"c":"i"},
{"x":940,"a":2055.5,"b":2053.75,"c":"i"},{"x":940,"a":2053.5,"b":2053.5,"c":"e"},{"x":940,"a":2052.5,"b":2052,"c":"e"},{"x":940,"a":2051.75,"b":2051.75,"c":"i"},{"x":940,"a":2051.5,"b":2051.5,"c":"y"},{"x":940,"a":2051.25,"b":2051,"c":"b"},{"x":940,"a":2050.75,"b":2050.75,"c":"i"},
{"x":947,"a":2055.5,"b":2053.75,"c":"e"},{"x":947,"a":2051.5,"b":2051,"c":"i"},
{"x":986,"a":2066.5,"b":2066.5,"c":"G"},{"x":986,"a":2066.25,"b":2066,"c":"g"},{"x":986,"a":2065.75,"b":2064,"c":"o"},{"x":986,"a":2063.75,"b":2063.75,"c":"g"},{"x":986,"a":2063.5,"b":2063.25,"c":"k"},{"x":986,"a":2063,"b":2063,"c":"i"},{"x":986,"a":2062.75,"b":2062.5,"c":"r"},{"x":986,"a":2062.25,"b":2061.5,"c":"G"},{"x":986,"a":2061.25,"b":2058.5,"c":"n"},{"x":986,"a":2058.25,"b":2056.75,"c":"g"},{"x":986,"a":2056.5,"b":2055.75,"c":"G"},{"x":986,"a":2055.5,"b":2055.5,"c":"r"},
{"x":993,"a":2066.25,"b":2066,"c":"g"},{"x":993,"a":2065.75,"b":2064.25,"c":"p"},{"x":993,"a":2064,"b":2064,"c":"g"},{"x":993,"a":2063.5,"b":2063.25,"c":"n"},{"x":993,"a":2063,"b":2063,"c":"k"},{"x":993,"a":2062.75,"b":2062.5,"c":"b"},{"x":993,"a":2062.25,"b":2061.5,"c":"r"},{"x":993,"a":2061.25,"b":2061,"c":"g"},{"x":993,"a":2060.75,"b":2058.25,"c":"o"},{"x":993,"a":2058,"b":2056.75,"c":"G"},{"x":993,"a":2056.5,"b":2055.75,"c":"r"},
{"x":1000,"a":2066,"b":2066,"c":"G"},{"x":1000,"a":2065.75,"b":2064,"c":"g"},{"x":1000,"a":2063.75,"b":2063.75,"c":"G"},{"x":1000,"a":2063.5,"b":2063.25,"c":"o"},{"x":1000,"a":2063,"b":2063,"c":"n"},{"x":1000,"a":2062.75,"b":2062.5,"c":"i"},{"x":1000,"a":2062.25,"b":2061.5,"c":"b"},{"x":1000,"a":2061.25,"b":2061.25,"c":"r"},{"x":1000,"a":2061,"b":2061,"c":"G"},{"x":1000,"a":2060.75,"b":2060.25,"c":"o"},{"x":1000,"a":2060,"b":2058.75,"c":"p"},{"x":1000,"a":2058.5,"b":2056.75,"c":"r"},{"x":1000,"a":2056.5,"b":2056.5,"c":"y"},
{"x":1007,"a":2066,"b":2066,"c":"r"},{"x":1007,"a":2065.75,"b":2064,"c":"G"},{"x":1007,"a":2063.5,"b":2063.5,"c":"g"},{"x":1007,"a":2062.75,"b":2062.75,"c":"e"},{"x":1007,"a":2062.5,"b":2061.5,"c":"i"},{"x":1007,"a":2061,"b":2061,"c":"r"},{"x":1007,"a":2060.75,"b":2060.25,"c":"G"},{"x":1007,"a":2060,"b":2058.75,"c":"g"},{"x":1007,"a":2058.5,"b":2056.75,"c":"y"},
{"x":1014,"a":2065.75,"b":2064.75,"c":"r"},{"x":1014,"a":2063.5,"b":2063.5,"c":"G"},{"x":1014,"a":2062.75,"b":2062.5,"c":"k"},{"x":1014,"a":2062.25,"b":2061.5,"c":"e"},{"x":1014,"a":2061,"b":2061,"c":"b"},{"x":1014,"a":2060.75,"b":2060.25,"c":"r"},{"x":1014,"a":2060,"b":2060,"c":"G"},{"x":1014,"a":2059.75,"b":2059.75,"c":"r"},{"x":1014,"a":2059.5,"b":2059.5,"c":"y"},{"x":1014,"a":2059.25,"b":2058.25,"c":"i"},{"x":1014,"a":2058,"b":2057.25,"c":"e"},{"x":1014,"a":2057,"b":2057,"c":"y"},
{"x":1021,"a":2065,"b":2065,"c":"r"},{"x":1021,"a":2062.75,"b":2062.5,"c":"n"},{"x":1021,"a":2062.25,"b":2061.5,"c":"k"},{"x":1021,"a":2061,"b":2060.75,"c":"i"},{"x":1021,"a":2060.5,"b":2060.25,"c":"b"},{"x":1021,"a":2060,"b":2060,"c":"r"},{"x":1021,"a":2059.75,"b":2059.75,"c":"g"},{"x":1021,"a":2059.5,"b":2059.25,"c":"y"},{"x":1021,"a":2059,"b":2058.75,"c":"r"},{"x":1021,"a":2058.5,"b":2057.5,"c":"e"},{"x":1021,"a":2057.25,"b":2057.25,"c":"y"},
{"x":1028,"a":2062.25,"b":2062,"c":"k"},{"x":1028,"a":2061.75,"b":2061.5,"c":"R"},{"x":1028,"a":2061,"b":2061,"c":"k"},{"x":1028,"a":2060.75,"b":2060.5,"c":"e"},{"x":1028,"a":2060.25,"b":2060.25,"c":"y"},{"x":1028,"a":2060,"b":2059.5,"c":"b"},{"x":1028,"a":2059.25,"b":2059.25,"c":"y"},{"x":1028,"a":2059,"b":2059,"c":"b"},{"x":1028,"a":2058.75,"b":2058.75,"c":"R"},{"x":1028,"a":2058.5,"b":2057.5,"c":"k"},
{"x":1035,"a":2062,"b":2061.75,"c":"n"},{"x":1035,"a":2061.5,"b":2061.5,"c":"k"},{"x":1035,"a":2061,"b":2061,"c":"t"},{"x":1035,"a":2060.5,"b":2060.25,"c":"e"},{"x":1035,"a":2060,"b":2060,"c":"b"},{"x":1035,"a":2059.25,"b":2059.25,"c":"b"},{"x":1035,"a":2059,"b":2059,"c":"i"},{"x":1035,"a":2058.75,"b":2058.5,"c":"t"},{"x":1035,"a":2058.25,"b":2057.5,"c":"R"},
{"x":1042,"a":2061.5,"b":2061.5,"c":"R"},{"x":1042,"a":2061,"b":2060.5,"c":"t"},{"x":1042,"a":2060.25,"b":2060.25,"c":"R"},{"x":1042,"a":2060,"b":2060,"c":"e"},{"x":1042,"a":2059,"b":2059,"c":"i"},{"x":1042,"a":2058.75,"b":2058.5,"c":"k"},{"x":1042,"a":2058.25,"b":2057.75,"c":"n"},
{"x":1049,"a":2061.25,"b":2061.25,"c":"n"},{"x":1049,"a":2061,"b":2061,"c":"R"},{"x":1049,"a":2060.5,"b":2060.25,"c":"R"},{"x":1049,"a":2059,"b":2058.75,"c":"t"},{"x":1049,"a":2058.5,"b":2058.5,"c":"n"},{"x":1049,"a":2058.25,"b":2058.25,"c":"n"},{"x":1049,"a":2058,"b":2058,"c":"y"},
{"x":1056,"a":2059,"b":2059,"c":"o"},{"x":1056,"a":2058.75,"b":2058.75,"c":"R"},{"x":1056,"a":2058.5,"b":2058.5,"c":"o"},{"x":1056,"a":2058.25,"b":2058.25,"c":"y"},{"x":1063,"a":2059,"b":2059,"c":"p"},{"x":1063,"a":2058.75,"b":2058.75,"c":"o"},{"x":1063,"a":2058.5,"b":2058.5,"c":"n"},{"x":1063,"a":2058.25,"b":2058.25,"c":"g"},
{"x":1070,"a":2059,"b":2059,"c":"g"},{"x":1070,"a":2058.75,"b":2058.75,"c":"p"},{"x":1070,"a":2058.5,"b":2058.5,"c":"o"},{"x":1077,"a":2059,"b":2059,"c":"y"},{"x":1077,"a":2058.75,"b":2058.75,"c":"g"},{"x":1077,"a":2058.5,"b":2058.5,"c":"p"},{"x":1084,"a":2059,"b":2059,"c":"b"},{"x":1084,"a":2058.75,"b":2058.75,"c":"y"},{"x":1084,"a":2058.5,"b":2058.5,"c":"y"},{"x":1091,"a":2058.75,"b":2058.75,"c":"b"},{"x":1091,"a":2058.5,"b":2058.5,"c":"y"},{"x":1098,"a":2058.5,"b":2058.5,"c":"b"},
{"x":1137,"a":2066,"b":2065.25,"c":"k"},{"x":1137,"a":2065,"b":2065,"c":"r"},{"x":1137,"a":2064.75,"b":2059.5,"c":"k"},{"x":1144,"a":2068.75,"b":2060,"c":"t"},{"x":1151,"a":2068,"b":2062.25,"c":"R"},{"x":1158,"a":2069.25,"b":2063.5,"c":"n"},{"x":1165,"a":2068.5,"b":2064.25,"c":"o"},{"x":1172,"a":2065.75,"b":2063.25,"c":"p"},{"x":1179,"a":2068.75,"b":2064.5,"c":"g"},{"x":1186,"a":2071.75,"b":2068,"c":"G"},{"x":1193,"a":2073,"b":2071,"c":"r"},{"x":1200,"a":2074,"b":2071,"c":"y"},{"x":1207,"a":2074,"b":2071.5,"c":"b"},{"x":1214,"a":2075,"b":2073,"c":"i"},{"x":1221,"a":2077.5,"b":2075.5,"c":"e"},{"x":1221,"a":2075.25,"b":2075.25,"c":"r"},{"x":1221,"a":2075,"b":2073.25,"c":"e"},
{"x":1260,"a":2076.25,"b":2074.5,"c":"k"},{"x":1260,"a":2074.25,"b":2074,"c":"n"},{"x":1260,"a":2073.75,"b":2072.75,"c":"G"},{"x":1260,"a":2072.5,"b":2072.5,"c":"i"},
{"x":1267,"a":2076.25,"b":2075.5,"c":"t"},{"x":1267,"a":2075.25,"b":2074.5,"c":"n"},{"x":1267,"a":2074.25,"b":2074.25,"c":"g"},{"x":1267,"a":2074,"b":2074,"c":"G"},{"x":1267,"a":2073.75,"b":2072.75,"c":"r"},
{"x":1274,"a":2076.25,"b":2076.25,"c":"o"},{"x":1274,"a":2076,"b":2075.75,"c":"n"},{"x":1274,"a":2075.5,"b":2074.5,"c":"o"},{"x":1274,"a":2074.25,"b":2074.25,"c":"n"},{"x":1274,"a":2074,"b":2074,"c":"r"},{"x":1274,"a":2073.75,"b":2072.75,"c":"y"},
{"x":1281,"a":2076,"b":2076,"c":"o"},{"x":1281,"a":2075.75,"b":2075.5,"c":"p"},{"x":1281,"a":2075.25,"b":2075,"c":"g"},{"x":1281,"a":2074.75,"b":2074.5,"c":"G"},{"x":1281,"a":2074.25,"b":2073.25,"c":"b"},{"x":1281,"a":2073,"b":2072.75,"c":"i"},
{"x":1288,"a":2076,"b":2076,"c":"R"},{"x":1288,"a":2075.75,"b":2075.5,"c":"p"},{"x":1288,"a":2075.25,"b":2075.25,"c":"g"},{"x":1288,"a":2075,"b":2074.5,"c":"G"},{"x":1288,"a":2074.25,"b":2074.25,"c":"b"},{"x":1288,"a":2074,"b":2073,"c":"i"},{"x":1288,"a":2072.75,"b":2072.75,"c":"o"},
{"x":1295,"a":2075.75,"b":2075.5,"c":"g"},{"x":1295,"a":2075.25,"b":2075.25,"c":"b"},{"x":1295,"a":2075,"b":2074.75,"c":"g"},{"x":1295,"a":2074.5,"b":2074.25,"c":"k"},{"x":1295,"a":2074,"b":2074,"c":"i"},{"x":1295,"a":2073.75,"b":2073.25,"c":"e"},{"x":1295,"a":2073,"b":2073,"c":"n"},{"x":1295,"a":2072.75,"b":2072.75,"c":"o"},
{"x":1302,"a":2075.75,"b":2075.5,"c":"R"},{"x":1302,"a":2075.25,"b":2075.25,"c":"n"},{"x":1302,"a":2075,"b":2075,"c":"R"},{"x":1302,"a":2074.75,"b":2074.25,"c":"t"},{"x":1302,"a":2074,"b":2073.25,"c":"k"},{"x":1302,"a":2073,"b":2073,"c":"p"},{"x":1309,"a":2075.5,"b":2075.5,"c":"n"},{"x":1309,"a":2075.25,"b":2075.25,"c":"R"},{"x":1309,"a":2075,"b":2075,"c":"n"},{"x":1309,"a":2074.75,"b":2074.75,"c":"t"},{"x":1309,"a":2074.5,"b":2074.5,"c":"R"},{"x":1309,"a":2074.25,"b":2074.25,"c":"n"},{"x":1309,"a":2074,"b":2073.25,"c":"o"},{"x":1309,"a":2073,"b":2073,"c":"g"},
{"x":1316,"a":2074.75,"b":2074.75,"c":"t"},{"x":1316,"a":2074.5,"b":2074,"c":"n"},{"x":1316,"a":2073.75,"b":2073.25,"c":"p"},{"x":1323,"a":2074.75,"b":2074.75,"c":"R"},{"x":1323,"a":2074.5,"b":2074,"c":"o"},{"x":1323,"a":2073.25,"b":2073.25,"c":"p"},{"x":1330,"a":2074.75,"b":2074.75,"c":"n"},{"x":1330,"a":2074.5,"b":2074.5,"c":"g"},{"x":1330,"a":2074,"b":2074,"c":"g"},{"x":1330,"a":2073.25,"b":2073.25,"c":"g"},{"x":1337,"a":2074.5,"b":2074.5,"c":"p"},{"x":1337,"a":2074,"b":2074,"c":"p"},{"x":1337,"a":2073.25,"b":2073.25,"c":"r"}
],
"stems":[
{"x":85,"a":2097.23,"b":2095.54,"c":"S"},{"x":85,"a":2095.54,"b":2091.39,"c":"Y"},{"x":85,"a":2091.39,"b":2086.94,"c":"r"},{"x":85,"a":2086.94,"b":2085.67,"c":"b"},{"x":85,"a":2085.67,"b":2082.91,"c":"r"},{"x":85,"a":2082.91,"b":2078.87,"c":"Y"},{"x":85,"a":2078.87,"b":2074.66,"c":"S"},{"x":85,"a":2074.66,"b":2066.42,"c":"P"},
{"x":201,"a":2097.23,"b":2092.89,"c":"P"},{"x":201,"a":2092.89,"b":2090.67,"c":"S"},{"x":201,"a":2090.67,"b":2088.44,"c":"Y"},{"x":201,"a":2088.44,"b":2083.57,"c":"r"},{"x":201,"a":2083.57,"b":2081.4,"c":"Y"},{"x":201,"a":2081.4,"b":2079.18,"c":"S"},{"x":201,"a":2079.18,"b":2074.66,"c":"P"},
{"x":421,"a":2097.23,"b":2093.44,"c":"P"},{"x":421,"a":2093.44,"b":2090.19,"c":"S"},{"x":421,"a":2090.19,"b":2086.94,"c":"Y"},{"x":421,"a":2086.94,"b":2082.91,"c":"r"},{"x":421,"a":2082.91,"b":2080.44,"c":"b"},{"x":421,"a":2080.44,"b":2080.2,"c":"r"},{"x":421,"a":2080.2,"b":2076.95,"c":"Y"},{"x":421,"a":2076.95,"b":2073.76,"c":"S"},{"x":421,"a":2073.76,"b":2067.26,"c":"P"},
{"x":517,"a":2096.8,"b":2094.94,"c":"P"},{"x":517,"a":2094.94,"b":2094.04,"c":"S"},{"x":517,"a":2094.04,"b":2093.19,"c":"Y"},{"x":517,"a":2093.19,"b":2091.15,"c":"r"},{"x":517,"a":2091.15,"b":2090.31,"c":"Y"},{"x":517,"a":2090.31,"b":2089.4,"c":"S"},{"x":517,"a":2089.4,"b":2087.66,"c":"P"},
{"x":633,"a":2097.23,"b":2095.42,"c":"S"},{"x":633,"a":2095.42,"b":2089.4,"c":"Y"},{"x":633,"a":2089.4,"b":2081.4,"c":"r"},{"x":633,"a":2081.4,"b":2077.91,"c":"b"},{"x":633,"a":2077.91,"b":2077.19,"c":"r"},{"x":633,"a":2077.19,"b":2071.17,"c":"Y"},{"x":633,"a":2071.17,"b":2065.22,"c":"S"},{"x":633,"a":2065.22,"b":2053.12,"c":"P"},
{"x":721,"a":2077.97,"b":2076.41,"c":"P"},{"x":721,"a":2076.41,"b":2075.69,"c":"S"},{"x":721,"a":2075.69,"b":2074.9,"c":"Y"},{"x":721,"a":2074.9,"b":2073.16,"c":"r"},{"x":721,"a":2073.16,"b":2072.44,"c":"Y"},{"x":721,"a":2072.44,"b":2071.65,"c":"S"},{"x":721,"a":2071.65,"b":2070.21,"c":"P"},
{"x":893,"a":2094.16,"b":2080.68,"c":"P"},{"x":893,"a":2080.68,"b":2073.94,"c":"S"},{"x":893,"a":2073.94,"b":2067.2,"c":"Y"},{"x":893,"a":2067.2,"b":2065.94,"c":"r"},{"x":893,"a":2065.94,"b":2062.45,"c":"b"},{"x":893,"a":2062.45,"b":2053.42,"c":"r"},{"x":893,"a":2053.42,"b":2046.68,"c":"Y"},{"x":893,"a":2046.68,"b":2042.77,"c":"S"},
{"x":981,"a":2066.96,"b":2064.19,"c":"P"},{"x":981,"a":2064.19,"b":2062.81,"c":"S"},{"x":981,"a":2062.81,"b":2061.43,"c":"Y"},{"x":981,"a":2061.43,"b":2058.42,"c":"r"},{"x":981,"a":2058.42,"b":2057.09,"c":"Y"},{"x":981,"a":2057.09,"b":2055.71,"c":"S"},{"x":981,"a":2055.71,"b":2052.94,"c":"P"},
{"x":1131,"a":2087.48,"b":2078.15,"c":"P"},{"x":1131,"a":2078.15,"b":2073.58,"c":"S"},{"x":1131,"a":2073.58,"b":2068.95,"c":"Y"},{"x":1131,"a":2068.95,"b":2065.76,"c":"r"},{"x":1131,"a":2065.76,"b":2063.35,"c":"b"},{"x":1131,"a":2063.35,"b":2059.44,"c":"r"},{"x":1131,"a":2059.44,"b":2054.81,"c":"Y"},{"x":1131,"a":2054.81,"b":2050.17,"c":"S"},{"x":1131,"a":2050.17,"b":2042.77,"c":"P"},
{"x":1255,"a":2079.9,"b":2078.15,"c":"P"},{"x":1255,"a":2078.15,"b":2077.31,"c":"S"},{"x":1255,"a":2077.31,"b":2076.41,"c":"Y"},{"x":1255,"a":2076.41,"b":2074.42,"c":"r"},{"x":1255,"a":2074.42,"b":2073.58,"c":"Y"},{"x":1255,"a":2073.58,"b":2072.68,"c":"S"},{"x":1255,"a":2072.68,"b":2070.93,"c":"P"}
],
"brackets":[
{"x":63,"x0":55,"a":2087.48,"b":2082.67,"m":2083.81},{"x":179,"x0":171,"a":2086.46,"b":2081.16,"m":2084.29},{"x":400,"x0":392,"a":2085.01,"b":2082.18,"m":2083.33},{"x":494,"x0":486,"a":2089.46,"b":2080.2,"m":2083.81},{"x":611,"x0":603,"a":2094.4,"b":2076.41,"m":2092.53},{"x":699,"x0":691,"a":2092.89,"b":2078.69,"m":2089.28},{"x":871,"x0":863,"a":2073.94,"b":2069.19,"m":2071.83},{"x":959,"x0":951,"a":2057.7,"b":2047.47,"m":2055.59},{"x":1110,"x0":1102,"a":2062.69,"b":2056.97,"m":2058.54},{"x":1233,"x0":1225,"a":2069.91,"b":2059.68,"m":2065.82},{"x":1349,"x0":1341,"a":2075.2,"b":2072.92,"m":2074.54}
],
"hlines":[
{"x":535,"x2":632,"p":2091,"k":"#12305a"},{"x":651,"x2":1218,"p":2077,"k":"#0b3b2e"},{"x":728,"x2":1131,"p":2067.75,"k":"#0b3b2e"},{"x":1192,"x2":1381,"p":2069.5,"k":"#26268a"}
],
"faint":[
{"x":65,"a":2090.8,"b":2087.5},{"x":65,"a":2087.4,"b":2082.8},{"x":181,"a":2086.9,"b":2081.2},{"x":495,"a":2081.3,"b":2077},{"x":495,"a":2093.4,"b":2092.5},{"x":613,"a":2076.4,"b":2072.5},{"x":701,"a":2073.1,"b":2066.2},{"x":873,"a":2065.6,"b":2063.8},{"x":963,"a":2060.5,"b":2055.4},{"x":1112,"a":2066.2,"b":2063.5},{"x":1235,"a":2075.2,"b":2070.9},{"x":1351,"a":2076,"b":2072.7}
],
"notes":[
{"x":6,"p":2096.8,"t":"TPO and Volume Profile Chart (v4)","k":"#000000"},{"x":2,"p":2043.13,"t":"© 2016 NinjaTrader, LLC","k":"#000000"},{"x":3,"p":2041.57,"t":"Final - www.fin-alg.com","k":"#3b78b4"}
]
},
"layer":[
{"data":{"values":[{"p":2090},{"p":2075},{"p":2060},{"p":2045}]},"mark":{"type":"rule","color":"#c9aca6","strokeWidth":1},"encoding":{"y":{"field":"p","type":"quantitative","scale":{"domain":[2042.774,2097.226],"nice":false,"zero":false},"title":null,"axis":{"orient":"right","values":[2045,2050,2055,2060,2065,2070,2075,2080,2085,2090,2095],"format":".2f","grid":false,"title":null,"domainColor":"#000000","domainWidth":1,"tickColor":"#000000","tickSize":6,"labelColor":"#000000","labelFontSize":11,"labelFont":"Liberation Sans","labelPadding":1,"labelOverlap":false,"labelBound":false}}}},
{"data":{"name":"cells"},"mark":{"type":"bar","size":6,"yOffset":-2,"y2Offset":2},"encoding":{"x":{"field":"x","type":"quantitative","scale":{"domain":[0,1381],"nice":false,"zero":false},"axis":{"title":null,"values":[102,218,438,534,650,738,910,998,1150,1272],"labelExpr":"({'102':'04/26','218':'04/26','438':'04/27','534':'04/27','650':'04/28','738':'04/28','910':'04/29','998':'05/01','1150':'05/02','1272':'05/02'})[datum.value]","grid":false,"ticks":false,"domainColor":"#000000","domainWidth":1.5,"labelColor":"#000000","labelFontSize":11,"labelFont":"Liberation Sans","labelPadding":3,"labelOverlap":false,"labelBound":false,"labelFlush":false}},"y":{"field":"a","type":"quantitative","scale":{"domain":[2042.774,2097.226],"nice":false,"zero":false},"axis":null},"y2":{"field":"b"},"color":{"field":"c","type":"nominal","legend":null,"scale":{"domain":["k","t","r","R","n","o","p","g","G","y","b","i","e","S","Y","P"],"range":["#2f2f2a","#35978f","#ff2a2a","#a52a2a","#333399","#ff9020","#9a2d90","#c49a30","#808078","#999926","#3333ff","#b85450","#33a02c","#4a9e4a","#ffff1a","#ffc8ae"]}}}},
{"data":{"name":"levels"},"mark":{"type":"rule","color":"#bdece3","strokeWidth":1},"encoding":{"y":{"field":"data","type":"quantitative","scale":{"domain":[2042.774,2097.226],"nice":false,"zero":false},"axis":null}}},
{"data":{"values":[{"x":490},{"x":880}]},"mark":{"type":"rule","color":"#f0c8b0","strokeWidth":1},"encoding":{"x":{"field":"x","type":"quantitative","scale":{"domain":[0,1381],"nice":false,"zero":false},"axis":null}}},
{"data":{"name":"faint"},"mark":{"type":"rule","color":"#d2d4f2","strokeWidth":2},"encoding":{"x":{"field":"x","type":"quantitative","axis":null},"y":{"field":"a","type":"quantitative","axis":null},"y2":{"field":"b"}}},
{"data":{"name":"stems"},"mark":{"type":"bar","size":5},"encoding":{"x":{"field":"x","type":"quantitative","axis":null},"y":{"field":"a","type":"quantitative","axis":null},"y2":{"field":"b"},"color":{"field":"c","type":"nominal","legend":null}}},
{"data":{"name":"hlines"},"mark":{"type":"rule","strokeWidth":1},"encoding":{"x":{"field":"x","type":"quantitative","axis":null},"x2":{"field":"x2"},"y":{"field":"p","type":"quantitative","axis":null},"stroke":{"field":"k","type":"nominal","scale":null}}},
{"data":{"name":"brackets"},"mark":{"type":"rule","color":"#ff2aff","strokeWidth":4.5},"encoding":{"x":{"field":"x","type":"quantitative","axis":null},"y":{"field":"a","type":"quantitative","axis":null},"y2":{"field":"b"}}},
{"data":{"name":"brackets"},"mark":{"type":"rule","color":"#ff2aff","strokeWidth":3},"encoding":{"x":{"field":"x0","type":"quantitative","axis":null},"x2":{"field":"x"},"y":{"field":"a","type":"quantitative","axis":null}}},
{"data":{"name":"brackets"},"mark":{"type":"rule","color":"#ff2aff","strokeWidth":3},"encoding":{"x":{"field":"x0","type":"quantitative","axis":null},"x2":{"field":"x"},"y":{"field":"b","type":"quantitative","axis":null}}},
{"data":{"name":"brackets"},"mark":{"type":"point","shape":"square","filled":true,"fill":"#dff2ee","fillOpacity":1,"stroke":"#2b2b2b","strokeWidth":2.5,"strokeOpacity":1,"size":30},"encoding":{"x":{"field":"x","type":"quantitative","axis":null},"y":{"field":"m","type":"quantitative","axis":null}}},
{"data":{"name":"notes"},"mark":{"type":"text","align":"left","baseline":"middle","fontSize":11,"font":"Liberation Sans"},"encoding":{"x":{"field":"x","type":"quantitative","axis":null},"y":{"field":"p","type":"quantitative","axis":null},"text":{"field":"t"},"color":{"field":"k","type":"nominal","scale":null}}},
{"data":{"values":[{"x":1358,"p":2096.26}]},"mark":{"type":"point","shape":"triangle-right","stroke":"#000000","strokeWidth":1,"fill":null,"opacity":1,"size":300},"encoding":{"x":{"field":"x","type":"quantitative","axis":null},"y":{"field":"p","type":"quantitative","axis":null}}},
{"data":{"values":[{"x":1370,"a":2096.93,"b":2095.72}]},"mark":{"type":"rule","color":"#000000","strokeWidth":2},"encoding":{"x":{"field":"x","type":"quantitative","axis":null},"y":{"field":"a","type":"quantitative","axis":null},"y2":{"field":"b"}}},
{"data":{"values":[{"x":1387,"x2":1429,"p":2073.25,"t":"2073.25"}]},"mark":{"type":"bar","size":13,"color":"#5c5c5c","stroke":"#000000","strokeWidth":1},"encoding":{"x":{"field":"x","type":"quantitative","axis":null},"x2":{"field":"x2"},"y":{"field":"p","type":"quantitative","axis":null}}},
{"data":{"values":[{"x":1386,"p":2073.25}]},"mark":{"type":"point","shape":"triangle-left","filled":true,"color":"#5c5c5c","opacity":1,"size":70},"encoding":{"x":{"field":"x","type":"quantitative","axis":null},"y":{"field":"p","type":"quantitative","axis":null}}},
{"data":{"values":[{"x":1409,"p":2073.25,"t":"2073.25"}]},"mark":{"type":"text","align":"center","baseline":"middle","fontSize":11,"font":"Liberation Sans","color":"#ffffff"},"encoding":{"x":{"field":"x","type":"quantitative","axis":null},"y":{"field":"p","type":"quantitative","axis":null},"text":{"field":"t"}}}
]}
